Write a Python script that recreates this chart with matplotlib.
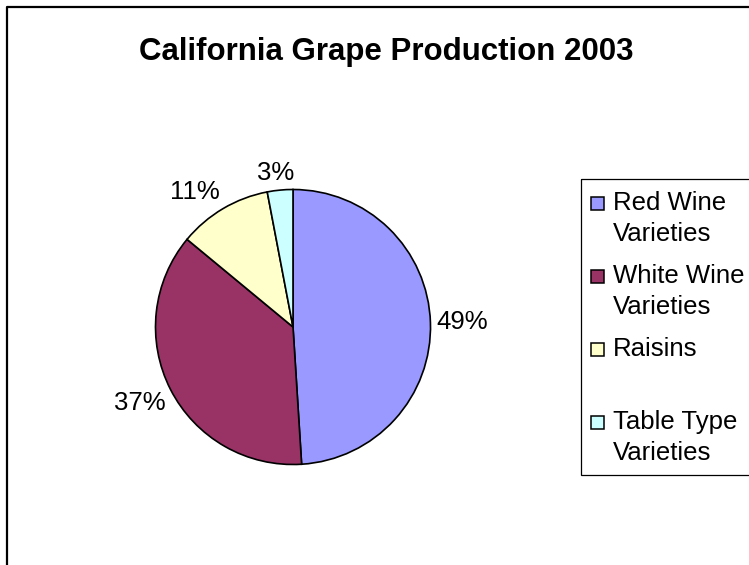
import matplotlib
matplotlib.use("Agg")
import matplotlib.pyplot as plt
import numpy as np
from matplotlib.patches import Rectangle

# data
categories = ["Red Wine Varieties", "White Wine Varieties", "Raisins", "Table Type Varieties"]
legend_lines = [["Red Wine", "Varieties"], ["White Wine", "Varieties"], ["Raisins"], ["Table Type", "Varieties"]]
shares = [49, 37, 11, 3]
colors = ["#9999FF", "#993366", "#FFFFCC", "#CCFFFF"]
title = "California Grape Production 2003"

plt.rcParams['font.family'] = ['Liberation Sans', 'DejaVu Sans']

W, H = 749, 565
fig = plt.figure(figsize=(W / 100, H / 100), dpi=100)

# overlay axes in pixel coordinates (border, title, legend)
bg = fig.add_axes([0, 0, 1, 1])
bg.set_xlim(0, W)
bg.set_ylim(H, 0)
bg.axis('off')
bg.plot([7, 7, W + 5], [H + 5, 7, 7], color='black', lw=1.6, clip_on=False)
bg.text(386, 52, title, ha='center', va='center', fontsize=22.5, fontweight='bold')

# legend box
bg.add_patch(Rectangle((581, 179), 200, 296, fill=False, edgecolor='black', lw=0.9, clip_on=False))
for i, (lines, c) in enumerate(zip(legend_lines, colors)):
    y0 = 203 + i * 73
    bg.add_patch(Rectangle((591, y0 - 6.5), 13, 13, facecolor=c, edgecolor='black', lw=1.1))
    for j, line in enumerate(lines):
        bg.text(613, y0 + j * 31, line, ha='left', va='center', fontsize=18.5)

# pie
cx, cy, r = 293, 327, 137.5
ax = fig.add_axes([(cx - r) / W, (H - cy - r) / H, 2 * r / W, 2 * r / H])
wedges, texts = ax.pie(shares, colors=colors, startangle=90, counterclock=False,
                       labels=[f"{v}%" for v in shares], labeldistance=1.0,
                       wedgeprops=dict(edgecolor='black', linewidth=1.2),
                       textprops=dict(fontsize=18.5))
ax.set_xlim(-1, 1)
ax.set_ylim(-1, 1)

# put the % labels just outside the rim, like excel does
fig.canvas.draw()
rend = fig.canvas.get_renderer()
for t, w in zip(texts, wedges):
    ang = np.deg2rad((w.theta1 + w.theta2) / 2)
    bb = t.get_window_extent(rend)
    tw, th = bb.width / r, bb.height / r
    c, s = np.cos(ang), np.sin(ang)
    x = 1.04 * c + tw / 2 * np.clip(2 * c, -1, 1)
    y = 1.04 * s + th / 2 * np.clip(2 * s, -1, 1)
    t.set_position((x, y))
    t.set_ha('center')
    t.set_va('center')

plt.savefig("out.png", dpi=100)
